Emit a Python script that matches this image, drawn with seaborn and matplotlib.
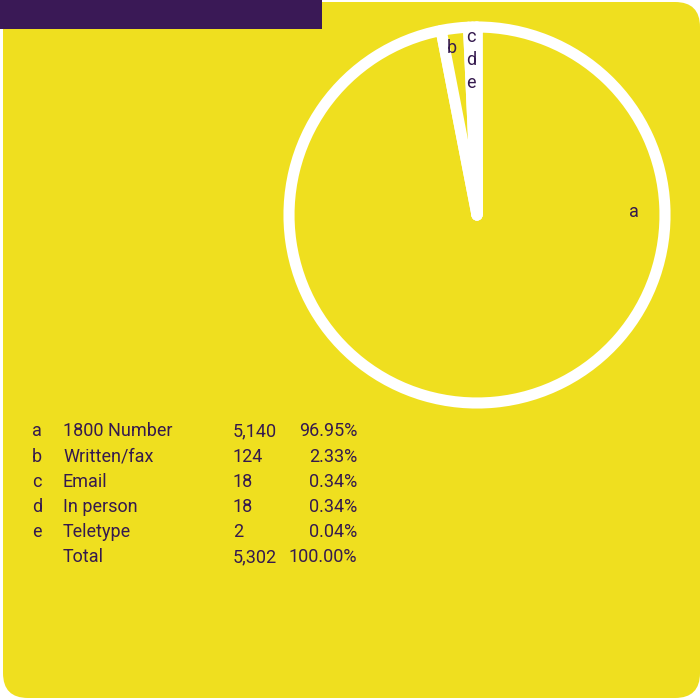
import matplotlib
matplotlib.use("Agg")
import matplotlib.pyplot as plt
from matplotlib.patches import FancyBboxPatch, Rectangle
import seaborn as sns

# Enquiries by channel
keys = ["a", "b", "c", "d", "e"]
channels = ["1800 Number", "Written/fax", "Email", "In person", "Teletype"]
counts = [5140, 124, 18, 18, 2]
shares = ["96.95%", "2.33%", "0.34%", "0.34%", "0.04%"]
total_count = "5,302"
total_share = "100.00%"

YELLOW = "#EFDF1F"
PURPLE = "#3A1956"
INK = "#351A4E"

sns.set_theme(style="white")
plt.rcParams["font.family"] = ["Roboto", "DejaVu Sans"]

W, H = 700, 698
fig = plt.figure(figsize=(W / 100, H / 100), dpi=100)
fig.patch.set_facecolor("white")

# Background panel in pixel coordinates
bg = fig.add_axes([0, 0, 1, 1])
bg.set_xlim(0, W)
bg.set_ylim(H, 0)
bg.axis("off")
bg.add_patch(FancyBboxPatch((3, 2), 697, 696,
                            boxstyle="round,pad=0,rounding_size=25",
                            facecolor=YELLOW, edgecolor="none"))
bg.add_patch(Rectangle((0, 0), 322, 29, facecolor=PURPLE, edgecolor="none"))

# Pie
cx, cy, r = 477, 215, 188
ax = fig.add_axes([(cx - r) / W, (H - cy - r) / H, 2 * r / W, 2 * r / H])
wedges, _ = ax.pie(counts, colors=[YELLOW] * len(counts), startangle=90,
                   counterclock=False, radius=1,
                   wedgeprops=dict(edgecolor="white", linewidth=8))
for w in wedges:
    w.set_joinstyle("round")
    w.set_clip_on(False)
ax.set_xlim(-1, 1)
ax.set_ylim(-1, 1)
ax.set_aspect("equal")
ax.axis("off")

fs = 13
label_pos = {"a": (0.835, 0.016), "b": (-0.133, 0.89), "c": (-0.032, 0.945),
             "d": (-0.032, 0.822), "e": (-0.032, 0.702)}
for k in keys:
    x, y = label_pos[k]
    ax.text(x, y, k, ha="center", va="center", fontsize=fs, color=INK)

# Table
row_y = [431, 456.5, 482, 507, 532, 557]
for i, k in enumerate(keys):
    y = row_y[i]
    bg.text(32, y, k, ha="left", va="center", fontsize=fs, color=INK)
    bg.text(63, y, channels[i], ha="left", va="center", fontsize=fs, color=INK)
    bg.text(233, y, f"{counts[i]:,}", ha="left", va="center", fontsize=fs, color=INK)
    bg.text(357, y, shares[i], ha="right", va="center", fontsize=fs, color=INK)
bg.text(63, row_y[5], "Total", ha="left", va="center", fontsize=fs, color=INK)
bg.text(233, row_y[5], total_count, ha="left", va="center", fontsize=fs, color=INK)
bg.text(357, row_y[5], total_share, ha="right", va="center", fontsize=fs, color=INK)

fig.savefig("out.png", dpi=100, facecolor="white")
